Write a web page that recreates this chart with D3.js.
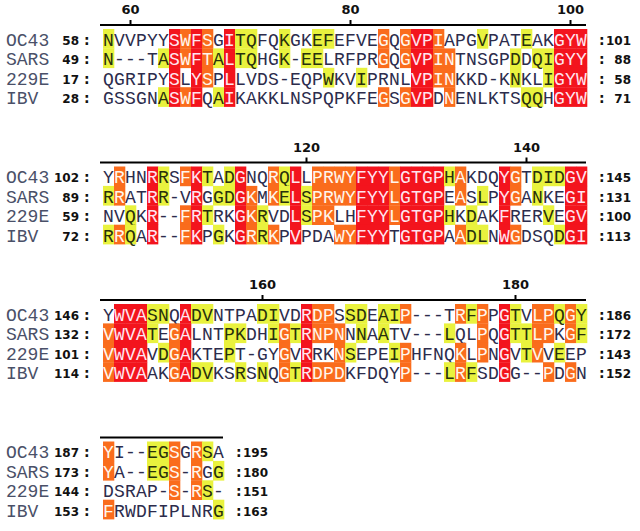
<!DOCTYPE html>
<html><head><meta charset="utf-8">
<script src="https://cdn.jsdelivr.net/npm/d3@7"></script>
<style>body{margin:0;background:#fff}</style>
</head><body>
<script>
// ---- data ----
const names = ["OC43", "SARS", "229E", "IBV"];
const starts = [[58, 49, 17, 28], [102, 89, 59, 72], [146, 132, 101, 114], [187, 173, 144, 153]];
const ends = [[101, 88, 58, 71], [145, 131, 100, 113], [186, 172, 143, 152], [195, 180, 151, 163]];
const tickLabels = [[60, 80, 100], [120, 140], [160, 180], []];
const seq1 = ["NVVPYYSWFSGITQFQKGKEFEFVEGQGVPIAPGVPATEAKGYW",
              "N---TASWFTALTQHGK-EELRFPRGQGVPINTNSGPDDQIGYY",
              "QGRIPYSLYSPLLVDS-EQPWKVIPRNLVPINKKD-KNKLIGYW",
              "GSSGNASWFQAIKAKKLNSPQPKFEGSGVPDNENLKTSQQHGYW"];
const seq2 = ["YRHNRRSFKTADGNQRQLLPRWYFYYLGTGPHAKDQYGTDIDGV",
              "RRATRR-VRGGDGKMKELSPRWYFYYLGTGPEASLPYGANKEGI",
              "NVQKR--FRTRKGKRVDLSPKLHFYYLGTGPHKDAKFRERVEGV",
              "RRQAR--FKPGKGRRKPVPDAWYFYYTGTGPAADLNWGDSQDGI"];
const seq3 = ["YWVASNQADVNTPADIVDRDPSSDEAIP---TRFPPGTVLPQGY",
              "VWVATEGALNTPKDHIGTRNPNNNAATV---LQLPQGTTLPKGF",
              "VWVAVDGAKTEPT-GYGVRRKNSEPEIPHFNQKLPNGVTVVEEP",
              "VWVAAKGADVKSRSNQGTRDPDKFDQYP---LRFSDGG--PDGN"];
const seq4 = ["YI--EGSGRSA",
              "YA--EGS-RGG",
              "DSRAP-S-RS-",
              "FRWDFIPLNRG"];
// shading: r = red (100%), o = orange, y = yellow, . = none
const shade1 = ["y.....roro.ryy..y..yy....o.orro...y...y..rrr",
                "y....yroroyryy..y.yy.....o.orroo.....y.yyrrr",
                "......r.ro.r........y..y....rroo.....y..yrrr",
                ".....yror.yr.............o.orr.o......yy.rrr"];
const shade2 = [".o..ry.ory.yr..oyr.oooorrrorrrryo...ro.yyyrr",
                "yo..ry..r.yyro.oyryoooorrrorrrr.o.y.ro.y..rr",
                "..y.r..ory..roy..ryoo..rrrorrrry.y..r...y.rr",
                "yoy.r..or.y.royo.r...oorrr.rrrr.oyy.ro...yrr"];
const shade3 = [".rrryy.ryy....yy..roo.yy.yyo....oyo.ry.ooyoy",
                "orrry.or...yy..yoyrooo.y.y.....y..o.ryyoo.oy",
                "orrr.yor...y....o.r..oy...yo....o.o.r.yo.y..",
                "orrr..oryy..y.y.oyrooo.....o...yoy..r...o.o."];
const shade4 = ["o...yyo.oy.",
                "o...yyo.o.y",
                "......o.oy.",
                "o.........y"];

const seqs = [seq1, seq2, seq3, seq4];
const shades = [shade1, shade2, shade3, shade4];

// ---- style / layout ----
const W = 640, H = 531;
const x0 = 103, cw = 11, rowH = 19.4;
const bg = {r: "#f3141d", o: "#fa6c1c", y: "#e9f23e", ".": "none"};
const fg = {r: "#ffe4ef", o: "#fff6ec", y: "#27300c", ".": "#2c2c4c"};
const mono = "'Liberation Mono','Courier New',monospace";
const sans = "'DejaVu Sans',Verdana,sans-serif";

const svg = d3.select("body").append("svg").attr("width", W).attr("height", H)
  .style("font-family", mono);

seqs.forEach((blk, b) => {
  const lineY = 25 + b * 137.5;
  const ncols = blk[0].length;
  const x = d3.scaleBand().domain(d3.range(ncols)).range([x0, x0 + ncols * cw]).paddingInner(0);
  const y = d3.scaleBand().domain(d3.range(blk.length)).range([lineY + 4, lineY + 4 + blk.length * rowH]);
  const g = svg.append("g");

  // ruler with ticks at OC43 numbering
  let pos = starts[b][0];
  const colNum = blk[0].split("").map(c => c === "-" ? null : pos++);
  const tickCols = tickLabels[b].map(t => colNum.indexOf(t));
  const axis = d3.axisTop(x).tickValues(tickCols)
      .tickFormat(c => colNum[c]).tickSizeInner(5).tickSizeOuter(0);
  const ag = g.append("g").attr("transform", `translate(0,${lineY})`).call(axis);
  ag.select(".domain").attr("stroke", "#000").attr("stroke-width", 2)
    .attr("d", `M${x0 - 3},0H${x0 + ncols * cw - 1}`);
  ag.selectAll(".tick line").attr("stroke", "#000").attr("stroke-width", 2);
  ag.selectAll(".tick text").attr("font-family", sans).attr("font-weight", "bold")
    .attr("font-size", 13).attr("fill", "#111").attr("dy", "-0.2em");

  blk.forEach((s, r) => {
    const cells = s.split("").map((c, i) => ({c, i, k: shades[b][r][i]}));
    const rg = g.append("g");
    rg.selectAll("rect").data(cells.filter(d => d.k !== "."))
      .join("rect")
      .attr("x", d => x(d.i)).attr("y", y(r))
      .attr("width", x.bandwidth() + 0.3).attr("height", y.bandwidth() + 0.3)
      .attr("fill", d => bg[d.k]);
    const base = y(r) + y.bandwidth() / 2 + 7.2;
    rg.selectAll("text").data(cells).join("text")
      .attr("x", d => x(d.i) + x.bandwidth() / 2).attr("y", base)
      .attr("text-anchor", "middle").attr("font-size", 18)
      .attr("fill", d => fg[d.k]).text(d => d.c);
    // name
    rg.append("text").attr("x", 6).attr("y", base).attr("font-size", 18)
      .attr("fill", "#4a5068").text(names[r]);
    // start number
    rg.append("text").attr("x", 79).attr("y", base - 1).attr("text-anchor", "end")
      .attr("font-family", sans).attr("font-weight", "bold").attr("font-size", 12)
      .attr("fill", "#111").text(starts[b][r]);
    rg.append("text").attr("x", 84).attr("y", base - 1)
      .attr("font-family", sans).attr("font-weight", "bold").attr("font-size", 14)
      .attr("fill", "#111").text(":");
    // end number
    const ex = x0 + ncols * cw;
    rg.append("text").attr("x", ex + 12).attr("y", base - 1)
      .attr("font-family", sans).attr("font-weight", "bold").attr("font-size", 14)
      .attr("fill", "#111").text(":");
    rg.append("text").attr("x", ex + 44).attr("y", base - 1).attr("text-anchor", "end")
      .attr("font-family", sans).attr("font-weight", "bold").attr("font-size", 12)
      .attr("fill", "#111").text(ends[b][r]);
  });
});
</script>
</body></html>
